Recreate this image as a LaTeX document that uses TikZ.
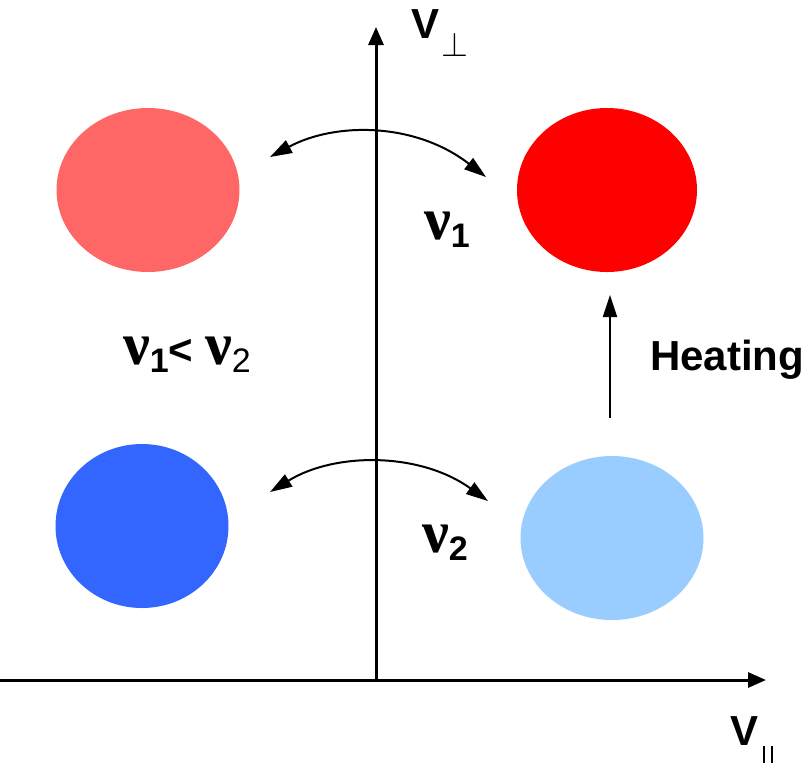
\documentclass[tikz,border=0pt]{standalone}
\usepackage{fontspec}
\setmainfont{Liberation Sans}
\newfontfamily\grkfont{Liberation Serif}
\usetikzlibrary{arrows.meta,shapes.geometric}

\definecolor{hotpale}{HTML}{FF6666}
\definecolor{hotred}{HTML}{FF0000}
\definecolor{colddeep}{HTML}{3366FF}
\definecolor{coldpale}{HTML}{99CCFF}

% collision frequency with index
\newcommand{\nulab}[1]{{\grkfont\bfseries\fontsize{30}{30}\selectfont ν}\raisebox{-0.35ex}{\fontsize{17}{17}\selectfont #1}}

\begin{document}
\begin{tikzpicture}[x=0.5pt, y=-0.5pt, font=\bfseries\fontsize{21}{21}\selectfont,
  blob/.style={ellipse, fill=#1, draw=none, minimum width=91.5pt, minimum height=82pt, inner sep=0pt},
  axis/.style={-{Triangle[length=9pt,width=7.5pt]}, line width=1.5pt},
  swap/.style={{Triangle[length=11pt,width=7pt]}-{Triangle[length=11pt,width=7pt]}, line width=1pt},
  arr/.style={-{Triangle[length=11pt,width=7pt]}, line width=1pt}]
\useasboundingbox (0,0) rectangle (809,768);
% distributions
\node[blob=hotpale] (hotA) at (148,190) {};
\node[blob=hotred, minimum width=90pt] (hotB) at (607,190) {};
\node[blob=colddeep, minimum width=86.5pt] (coldA) at (142,526) {};
\node[blob=coldpale] (coldB) at (612,538) {};
% axes
\coordinate (org) at (376,680);
\coordinate (ytip) at (376,27);
\coordinate (xstart) at (0,680);
\coordinate (xtip) at (766,680);
\draw[axis] (org) -- (ytip);
\draw[axis] (xstart) -- (xtip);
\node (vperp) at (440,33) {V\kern1pt\raisebox{-9pt}{\fontsize{16}{16}\selectfont$\perp$}};
\node (vpar) at (752,740) {V\kern2pt\rule[-8.5pt]{1.1pt}{8.5pt}\kern3pt\rule[-8.5pt]{1.1pt}{8.5pt}};
% exchange between the two sides
\coordinate (topL) at (270,157);
\coordinate (topR) at (486,177);
\coordinate (botL) at (270,492);
\coordinate (botR) at (488,501);
\draw[swap] (topL) .. controls +(65,-35) and +(-71,-55) .. (topR);
\draw[swap] (botL) .. controls +(65,-40) and +(-68,-49) .. (botR);
\node (nuone) at (447,230) {\nulab{1}};
\node (nutwo) at (445,543) {\nulab{2}};
\node (order) at (187,355) {\nulab{1}< \nulab{\mdseries 2}};
% heating
\coordinate (heatfoot) at (610,418);
\coordinate (heattip) at (610,295);
\draw[arr] (heatfoot) -- (heattip);
\node (heat) at (727,360) {Heating};
\end{tikzpicture}
\end{document}
